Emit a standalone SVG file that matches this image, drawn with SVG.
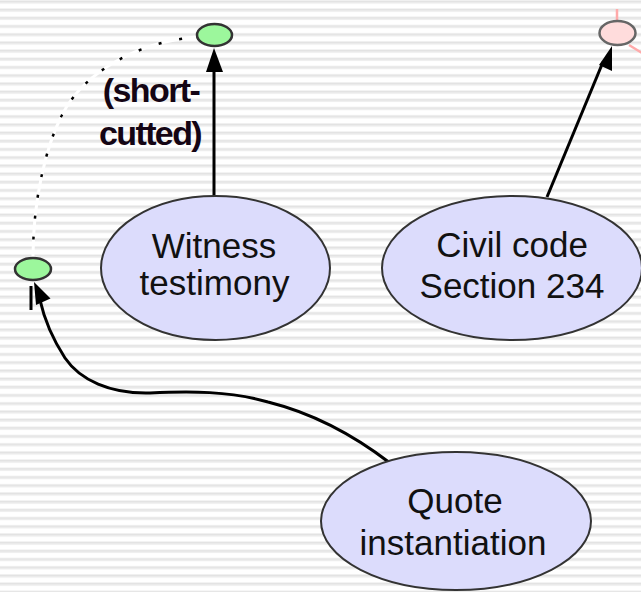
<svg xmlns="http://www.w3.org/2000/svg" width="641" height="592" viewBox="0 0 641 592">
  <style>
    .concept { fill: #dcdcfc; stroke: #333333; stroke-width: 2; }
    .port { fill: #9cf79c; stroke: #333333; stroke-width: 2.5; }
    .port-ext { fill: #ffdcdc; stroke: #666666; stroke-width: 2.5; }
    .label { font-family: "Liberation Sans", Arial, sans-serif; font-size: 35px; fill: #111111; text-anchor: middle; }
    .note { font-family: "Liberation Sans", Arial, sans-serif; font-size: 34px; font-weight: bold; letter-spacing: -1.6px; fill: #140514; text-anchor: middle; }
    .edge { fill: none; stroke: #000000; stroke-width: 3; }
    .head { fill: #000000; }
  </style>
  <defs>
    <pattern id="stripes" patternUnits="userSpaceOnUse" width="641" height="8.2">
      <rect x="0" y="0" width="641" height="8.2" fill="#ffffff"/>
      <rect x="0" y="0.5" width="641" height="2" fill="#e2e2e2"/>
      <rect x="0" y="2.5" width="641" height="1.2" fill="#efefef"/>
    </pattern>
  </defs>

  <!-- striped slide background -->
  <rect x="0" y="0" width="641" height="592" fill="url(#stripes)"/>

  <!-- connectors -->
  <g id="connectors">
    <!-- short-cut link: white dotted arc -->
    <path d="M196,37 C140,42 85,70 62,115 C46,146 33,200 33,257" fill="none" stroke="#ffffff" stroke-width="3"/>
    <path d="M196,37 C140,42 85,70 62,115 C46,146 33,200 33,257" fill="none" stroke="#000000" stroke-width="2.5" stroke-dasharray="3 18" stroke-dashoffset="-14"/>

    <!-- Witness testimony to upper port -->
    <line class="edge" x1="214" y1="197" x2="214" y2="66"/>
    <polygon class="head" points="214,48 206,72 223,72"/>

    <!-- Civil code to external port -->
    <line class="edge" x1="547" y1="197" x2="603" y2="62"/>
    <polygon class="head" points="612,46 599,65 612,71"/>

    <!-- Quote instantiation to left port -->
    <path class="edge" d="M390,463 C360,440 320,415 268,402 C230,391 190,391 150,393 C110,394 80,380 65,358 C52,338 44,318 40,300" stroke-width="2.5"/>
    <polygon class="head" points="34,282 50.5,298.5 36,305"/>
    <line x1="31" y1="286" x2="31" y2="310" stroke="#000000" stroke-width="3"/>
  </g>

  <g id="port-top">
    <ellipse class="port" cx="214.5" cy="35" rx="17.5" ry="11"/>
  </g>

  <g id="port-left">
    <ellipse class="port" cx="33" cy="269" rx="18" ry="11"/>
  </g>

  <g id="port-external">
    <line x1="617" y1="9" x2="617" y2="21" stroke="#ffaaaa" stroke-width="2.5"/>
    <line x1="629" y1="45" x2="642" y2="53" stroke="#ffaaaa" stroke-width="2.5"/>
    <ellipse class="port-ext" cx="617.5" cy="33" rx="18" ry="12"/>
  </g>

  <g id="note-shortcut">
    <text class="note" x="151" y="102">(short-</text>
    <text class="note" x="150" y="145">cutted)</text>
  </g>

  <g id="witness-testimony">
    <ellipse class="concept" cx="215.5" cy="268" rx="114.5" ry="72"/>
    <text class="label" x="214" y="258">Witness</text>
    <text class="label" x="214.5" y="295">testimony</text>
  </g>

  <g id="civil-code">
    <ellipse class="concept" cx="512" cy="268" rx="130" ry="72"/>
    <text class="label" x="512" y="257">Civil code</text>
    <text class="label" x="512" y="298">Section 234</text>
  </g>

  <g id="quote-instantiation">
    <ellipse class="concept" cx="456" cy="521" rx="135" ry="69"/>
    <text class="label" x="455" y="513">Quote</text>
    <text class="label" x="453" y="555">instantiation</text>
  </g>
</svg>
